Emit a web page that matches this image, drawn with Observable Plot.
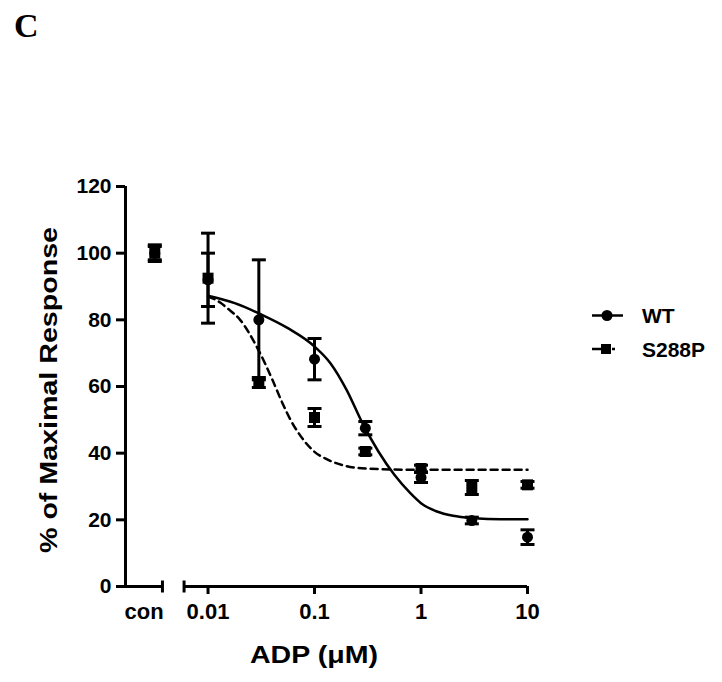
<!DOCTYPE html>
<html><head><meta charset="utf-8">
<script src="https://cdn.jsdelivr.net/npm/d3@7"></script>
<script src="https://cdn.jsdelivr.net/npm/@observablehq/plot@0.6"></script>
<style>
body{margin:0;background:#fff;}
#wrap{position:relative;width:722px;height:682px;}
</style></head><body><div id="wrap"></div>
<script>
// ---- data ----
const doses = ["con", 0.01, 0.03, 0.1, 0.3, 1, 3, 10];
const wtMean  = [100, 92, 80, 68.2, 47.5, 32.7, 19.8, 14.8];
const wtErr   = [2, 8, 18, 6.2, 2, 1.5, 1, 2.2];
const mutMean = [100, 92.5, 61.2, 50.7, 40.5, 35.4, 29.7, 30.5];
const mutErr  = [2.5, 13.5, 1.5, 2.7, 1, 1, 2.1, 1];

// fitted curves as drawn in the reference
const wtFitX = [0.01, 0.0178, 0.0316, 0.0562, 0.1, 0.141, 0.2, 0.282, 0.398, 0.562, 0.794, 1, 1.41, 2, 3.16, 5.62, 10];
const wtFitY = [87.2, 85, 81.6, 77.5, 72, 67, 59, 49, 40.5, 33.5, 28, 25, 22.5, 21.2, 20.5, 20.2, 20.2];
const mutFitX = [0.01, 0.013, 0.015, 0.02, 0.03, 0.04, 0.05, 0.06, 0.08, 0.1, 0.13, 0.2, 0.3, 1, 10];
const mutFitY = [87, 85.2, 83.6, 80, 70.7, 62.2, 55, 49.8, 43.7, 40.4, 38.2, 36.1, 35.4, 35, 35];

const yTicks = [0, 20, 40, 60, 80, 100, 120];
const xTicks = [0.01, 0.1, 1, 10];
const seriesNames = ["WT", "S288P"];

// ---- layout helpers (positions on the broken log axis) ----
const xDomain = [Math.pow(10, -2.775), 10];
const conPos = Math.pow(10, -2.5);
const conEnd = Math.pow(10, -2.428);
const logStart = Math.pow(10, -2.225);
const conLabelPos = Math.pow(10, -2.6);
const xOf = d => d === "con" ? conPos : d;

const rows = (means, errs, series) => doses.map((d, i) => ({
  x: xOf(d), y: means[i], lo: means[i] - errs[i], hi: means[i] + errs[i], series
}));
const wt = rows(wtMean, wtErr, seriesNames[0]);
const mut = rows(mutMean, mutErr, seriesNames[1]);
const all = wt.concat(mut);
const caps = all.flatMap(d => [{x: d.x, y: d.lo}, {x: d.x, y: d.hi}]);
const wtFit = wtFitX.map((x, i) => ({x, y: wtFitY[i]}));
const mutFit = mutFitX.map((x, i) => ({x, y: mutFitY[i]}));
const segments = [{x1: xDomain[0], x2: conEnd}, {x1: logStart, x2: 10}];
const segEnds = [{x: conEnd}, {x: logStart}];

const hbar = {draw(ctx, size) { const r = Math.sqrt(size / Math.PI); ctx.moveTo(-r, 0); ctx.lineTo(r, 0); }};
const vbar = {draw(ctx, size) { const r = Math.sqrt(size / Math.PI); ctx.moveTo(0, -r); ctx.lineTo(0, r); }};

const plot = Plot.plot({
  width: 722, height: 682,
  marginLeft: 125, marginRight: 195, marginTop: 186, marginBottom: 96,
  x: {type: "log", domain: xDomain},
  y: {domain: [0, 120]},
  style: {fontFamily: "'Liberation Sans', Arial, sans-serif", fontWeight: "bold", fontSize: "21px", color: "black", background: "white", overflow: "visible"},
  marks: [
    Plot.ruleX([xDomain[0]], {y1: 0, y2: 120, stroke: "black", strokeWidth: 3}),
    Plot.axisY({ticks: yTicks, tickSize: 9, tickPadding: 5, strokeWidth: 3, fontSize: 21, label: null}),
    Plot.ruleY(segments, {x1: "x1", x2: "x2", y: 0, stroke: "black", strokeWidth: 3}),
    Plot.dot(segEnds, {x: "x", y: 0, symbol: vbar, r: 6, stroke: "black", strokeWidth: 3}),
    Plot.axisX({ticks: xTicks, tickFormat: d => String(d), tickSize: 8, tickPadding: 9, strokeWidth: 3, fontSize: 22, label: null}),
    Plot.text(["con"], {x: conLabelPos, y: 0, text: d => d, lineAnchor: "top", dy: 17, fontSize: 22}),
    Plot.line(wtFit, {x: "x", y: "y", curve: "monotone-x", stroke: "black", strokeWidth: 2.5}),
    Plot.line(mutFit, {x: "x", y: "y", curve: "monotone-x", stroke: "black", strokeWidth: 2.5, strokeDasharray: "7,5"}),
    Plot.ruleX(all, {x: "x", y1: "lo", y2: "hi", stroke: "black", strokeWidth: 3}),
    Plot.dot(caps, {x: "x", y: "y", symbol: hbar, r: 7, stroke: "black", strokeWidth: 3}),
    Plot.dot(wt, {x: "x", y: "y", symbol: "circle", r: 5.5, fill: "black", stroke: "none"}),
    Plot.dot(mut, {x: "x", y: "y", symbol: "square", r: 6.2, fill: "black", stroke: "none"})
  ]
});
document.getElementById("wrap").appendChild(plot);

const svg = d3.select(plot);
// panel letter
svg.append("text").attr("x", 14).attr("y", 37).attr("text-anchor", "start")
  .attr("font-family", "'Liberation Serif', 'Times New Roman', serif")
  .attr("font-size", 34).attr("font-weight", "bold").attr("fill", "black").text("C");
// axis titles
svg.append("text").attr("transform", "translate(57,390) rotate(-90)")
  .attr("text-anchor", "middle").attr("font-size", 23).attr("font-weight", "bold")
  .attr("textLength", 326).attr("lengthAdjust", "spacingAndGlyphs").attr("fill", "black")
  .text("% of Maximal Response");
svg.append("text").attr("x", 314).attr("y", 663)
  .attr("text-anchor", "middle").attr("font-size", 23).attr("font-weight", "bold")
  .attr("textLength", 128).attr("lengthAdjust", "spacingAndGlyphs").attr("fill", "black")
  .text("ADP (\u03BCM)");
// legend
const lg = svg.append("g").attr("fill", "black").attr("text-anchor", "start");
const rowsY = [315.5, 349];
lg.append("line").attr("x1", 592).attr("x2", 623).attr("y1", rowsY[0]).attr("y2", rowsY[0]).attr("stroke", "black").attr("stroke-width", 2.5);
lg.append("circle").attr("cx", 607).attr("cy", rowsY[0]).attr("r", 5.5);
lg.append("text").attr("x", 642).attr("y", rowsY[0] + 7.5).attr("text-anchor", "start").attr("font-size", 21).attr("font-weight", "bold").text(seriesNames[0]);
lg.append("line").attr("x1", 592).attr("x2", 623).attr("y1", rowsY[1]).attr("y2", rowsY[1]).attr("stroke", "black").attr("stroke-width", 2.5).attr("stroke-dasharray", "9,5,3,3,3");
lg.append("rect").attr("x", 601).attr("y", rowsY[1] - 5).attr("width", 10).attr("height", 10);
lg.append("text").attr("x", 642).attr("y", rowsY[1] + 7.5).attr("text-anchor", "start").attr("font-size", 21).attr("font-weight", "bold").text(seriesNames[1]);
</script></body></html>
